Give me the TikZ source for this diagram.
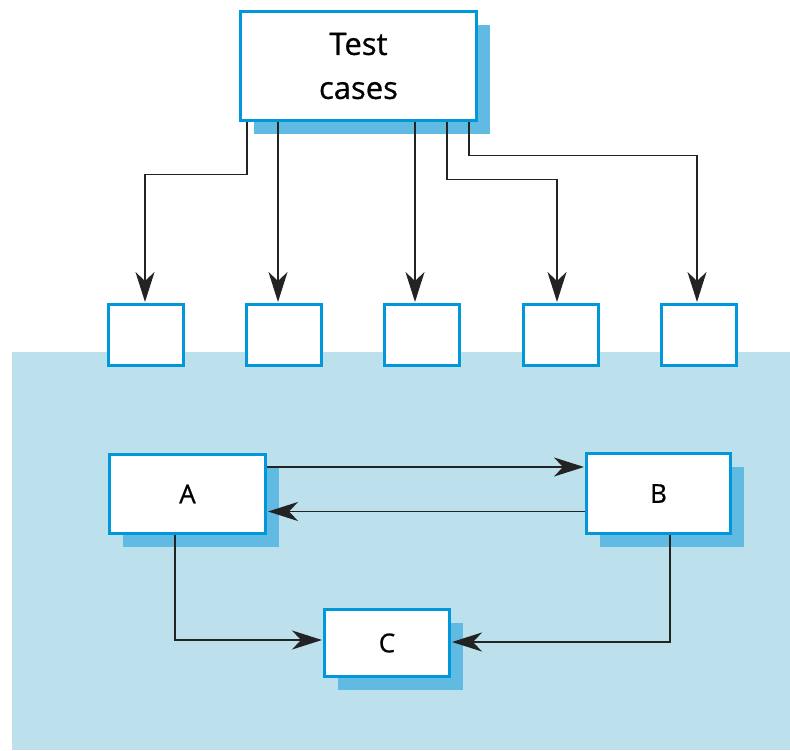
\documentclass[tikz,border=0pt]{standalone}
\usepackage{fontspec}
\setmainfont{Open Sans}
\newfontfamily\medfont{Open Sans}[FakeBold=0.7]
\usetikzlibrary{arrows.meta,shadows}
\definecolor{bgblue}{RGB}{188,225,236}
\definecolor{shadowblue}{RGB}{96,186,226}
\definecolor{edgeblue}{RGB}{0,152,218}
\definecolor{linegray}{RGB}{35,35,35}
\tikzset{
  box/.style={draw=edgeblue, line width=3pt, fill=white, inner sep=0pt,
    drop shadow={shadow xshift=13pt, shadow yshift=-13pt, fill=shadowblue, opacity=1}},
  smallbox/.style={draw=edgeblue, line width=3pt, fill=white, inner sep=0pt,
    minimum width=75pt, minimum height=61pt},
  arr/.style={draw=linegray, line width=1.6pt,
    -{Stealth[length=30pt, width=19pt, inset=9pt]}, shorten >=1pt},
  lbl/.style={font=\medfont\fontsize{26pt}{30pt}\selectfont}
}
\begin{document}
\begin{tikzpicture}[x=1pt,y=-1pt]
\useasboundingbox (0,0) rectangle (790,750);
\fill[bgblue] (12,352) rectangle (790,750);

\node[box, minimum width=236pt, minimum height=109pt, align=center,
  font=\medfont\fontsize{31pt}{44pt}\selectfont] (T) at (358.5,66) {Test\\cases};

\node[smallbox] (s1) at (146,335) {};
\node[smallbox] (s2) at (284,335) {};
\node[smallbox] (s3) at (422,335) {};
\node[smallbox] (s4) at (561,335) {};
\node[smallbox] (s5) at (699,335) {};

\node[box, lbl, minimum width=156pt, minimum height=79pt] (A) at (187.5,494) {A};
\node[box, lbl, minimum width=144pt, minimum height=80pt] (B) at (658.5,493.5) {B};
\node[box, lbl, minimum width=125pt, minimum height=67pt] (C) at (387,643) {C};

% from test cases
\draw[arr] ([xshift=-111.5pt]T.south) -- ++(0,52.5) -| ([xshift=-1pt]s1.north);
\draw[arr] ([xshift=-80.5pt]T.south) -- ([xshift=-80.5pt]T.south |- s2.north);
\draw[arr] ([xshift=56.5pt]T.south) -- ([xshift=56.5pt]T.south |- s3.north);
\draw[arr] ([xshift=88.5pt]T.south) -- ++(0,57.5) -| ([xshift=-4pt]s4.north);
\draw[arr] ([xshift=110.5pt]T.south) -- ++(0,33.5) -| ([xshift=-2pt]s5.north);

% A <-> B
\draw[arr] ([yshift=27pt]A.east) -- ([yshift=27pt]A.east -| B.west);
\draw[arr] ([yshift=-18pt]B.west) -- ([yshift=-18pt]B.west -| A.east);

% to C
\draw[arr] ([xshift=-12.5pt]A.south) |- ([yshift=3pt]C.west);
\draw[arr] ([xshift=11.5pt]B.south) |- ([yshift=1pt]C.east);
\end{tikzpicture}
\end{document}
